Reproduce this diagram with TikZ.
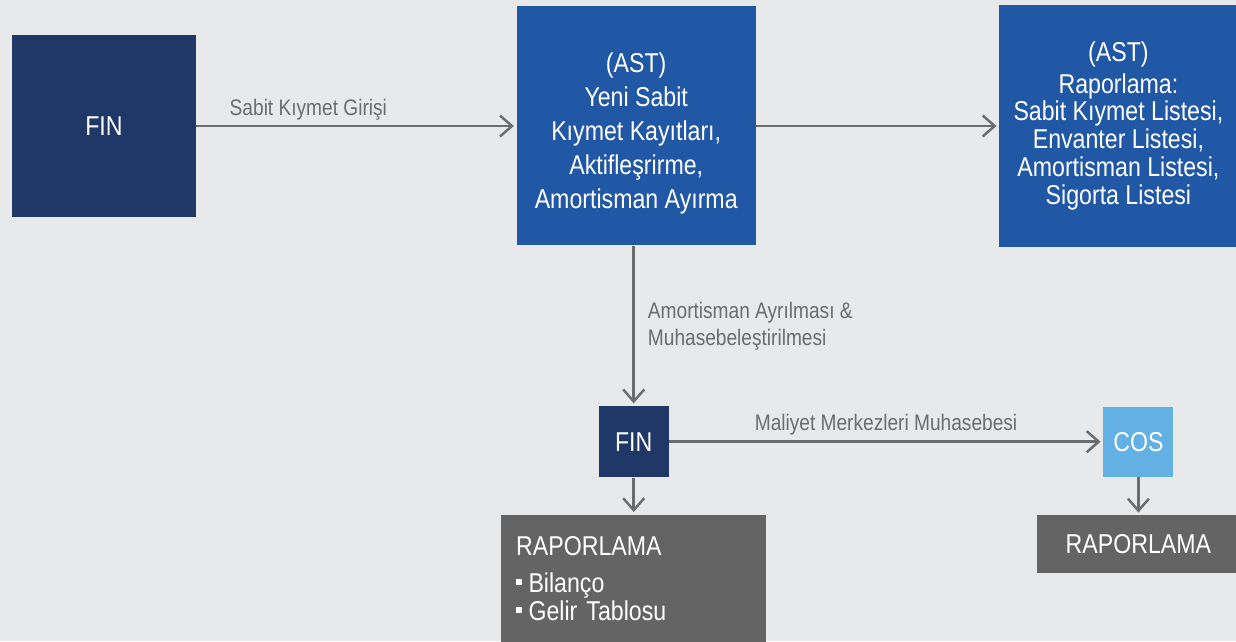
\documentclass[tikz,border=0pt]{standalone}
\usepackage{fontspec}
\setmainfont{Liberation Sans}[FakeStretch=0.85]
\usetikzlibrary{arrows.meta}
\usetikzlibrary{positioning}

\definecolor{bgGray}{RGB}{232,233,235}
\definecolor{finBlue}{RGB}{31,56,104}
\definecolor{astBlue}{RGB}{33,88,165}
\definecolor{cosBlue}{RGB}{99,177,228}
\definecolor{repGray}{RGB}{100,100,100}
\definecolor{lineGray}{RGB}{108,108,108}

\newcommand\sqbullet{\rule[4.3pt]{3.4pt}{3.4pt}\hspace{3.6pt}}

\begin{document}
\begin{tikzpicture}[
box/.style={draw=none,text=white,align=center,inner sep=0pt,font=\fontsize{15.5}{19.3}\selectfont},
flow/.style={draw=lineGray,line width=1.4pt,-{Straight Barb[length=0.24cm,width=0.42cm]},shorten >=0.05cm},
lbl/.style={text=lineGray,inner sep=0pt,font=\fontsize{12.8}{15.3}\selectfont}]
\useasboundingbox (0,0) rectangle (24.72,12.82);
\fill[bgGray] (0,0) rectangle (24.72,12.82);

\node[box,fill=finBlue,minimum width=3.68cm,minimum height=3.64cm] (fin) at (2.08,10.30) {FIN};
\node[box,fill=astBlue,minimum width=4.78cm,minimum height=4.78cm,right=6.4cm of fin] (ast) {\rule{0pt}{20pt}(AST)\\Yeni Sabit\\Kıymet Kayıtları,\\Aktifleşrirme,\\Amortisman Ayırma};
\node[box,fill=astBlue,minimum width=4.76cm,minimum height=4.84cm,right=4.86cm of ast,font=\fontsize{15.5}{15.9}\selectfont] (rep) {(AST)\\[2.2pt]Raporlama:\\Sabit Kıymet Listesi,\\Envanter Listesi,\\Amortisman Listesi,\\Sigorta Listesi};

\node[box,fill=finBlue,minimum width=1.40cm,minimum height=1.42cm,below=3.2cm of ast,xshift=-0.05cm] (fin2) {FIN};
\node[box,fill=cosBlue,minimum width=1.40cm,minimum height=1.40cm,right=8.68cm of fin2] (cos) {COS};
\node[box,fill=repGray,minimum width=4.04cm,minimum height=1.16cm,below=0.76cm of cos] (raprep) {RAPORLAMA};
\node[box,fill=repGray,minimum width=5.30cm,minimum height=2.56cm,text width=4.70cm,align=left,below=0.74cm of fin2,font=\fontsize{15.5}{15.9}\selectfont] (rapfin) {RAPORLAMA\\[5pt]\sqbullet Bilanço\\\sqbullet Gelir Tablosu};

% arrows
\draw[flow] (fin) -- node[lbl,anchor=base,pos=0.35,yshift=0.2cm] (girisLbl) {Sabit Kıymet Girişi} (ast);
\draw[flow] (ast) -- (rep);
\draw[flow] (ast.south -| fin2) -- node[lbl,anchor=west,xshift=0.26cm,align=left] (amortLbl) {Amortisman Ayrılması \&\\Muhasebeleştirilmesi} (fin2);
\draw[flow] (fin2) -- node[lbl,anchor=base,yshift=0.22cm] (maliyetLbl) {Maliyet Merkezleri Muhasebesi} (cos);
\draw[flow] (fin2) -- (rapfin);
\draw[flow] (cos) -- (raprep);

\end{tikzpicture}
\end{document}
